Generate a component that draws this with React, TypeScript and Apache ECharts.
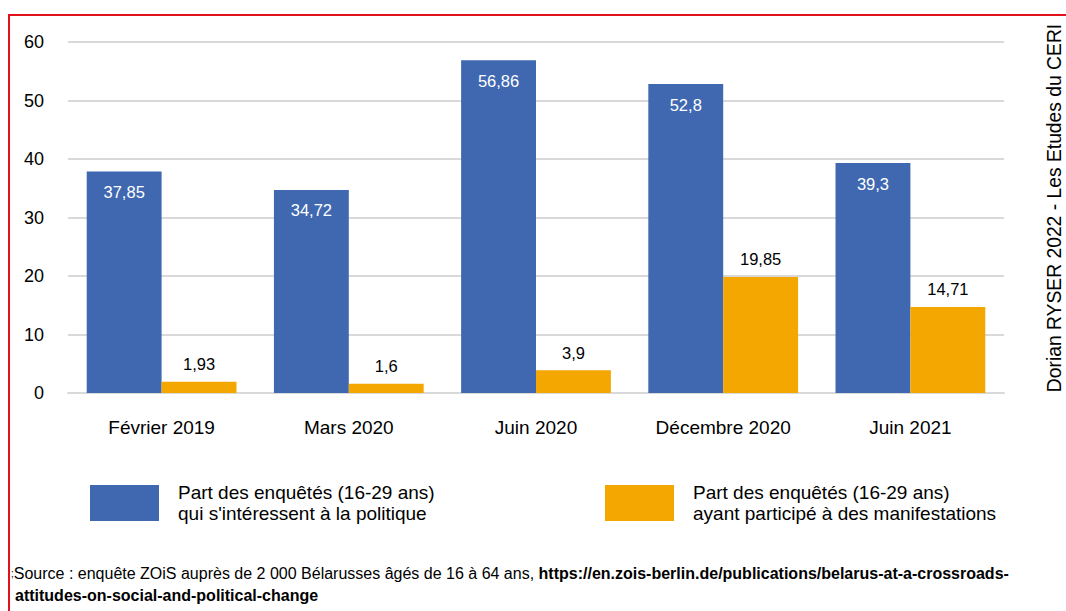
import React, { useEffect, useRef } from "react";
import * as echarts from "echarts";

const categories = ["Février 2019", "Mars 2020", "Juin 2020", "Décembre 2020", "Juin 2021"];
const interestValues = [37.85, 34.72, 56.86, 52.8, 39.3];
const protestValues = [1.93, 1.6, 3.9, 19.85, 14.71];
const seriesNames = [
  "Part des enquêtés (16-29 ans)\nqui s'intéressent à la politique",
  "Part des enquêtés (16-29 ans)\nayant participé à des manifestations",
];
const credit = "Dorian RYSER 2022 - Les Etudes du CERI";
const sourceNormal = "Source : enquête ZOiS auprès de 2 000 Bélarusses âgés de 16 à 64 ans, ";
const sourceBold1 = "https://en.zois-berlin.de/publications/belarus-at-a-crossroads-";
const sourceBold2 = "attitudes-on-social-and-political-change";

const FONT = "'Liberation Sans', Arial, sans-serif";
const BLUE = "#3f68b1";
const ORANGE = "#f4a700";

const fmt = (v: number) => String(v).replace(".", ",");

export default function App() {
  const ref = useRef<HTMLDivElement>(null);
  useEffect(() => {
    if (!ref.current) return;
    const chart = echarts.init(ref.current, null, { renderer: "svg" });
    const legendText = { fontSize: 19, color: "#000", lineHeight: 21, padding: [0, 0, 0, 14], fontFamily: FONT };
    chart.setOption({
      animation: false,
      textStyle: { fontFamily: FONT },
      grid: { left: 68, right: 62, top: 42, bottom: 218 },
      xAxis: {
        type: "category",
        data: categories,
        axisTick: { show: false },
        axisLine: { lineStyle: { color: "#d9d9d9", width: 2 } },
        axisLabel: { color: "#000", fontSize: 19, margin: 25, fontFamily: FONT },
      },
      yAxis: {
        type: "value",
        min: 0,
        max: 60,
        interval: 10,
        axisLine: { show: false },
        axisTick: { show: false },
        axisLabel: { color: "#000", fontSize: 18, margin: 24, fontFamily: FONT },
        splitLine: { lineStyle: { color: "#d9d9d9", width: 2 } },
      },
      legend: [
        {
          data: [seriesNames[0]],
          left: 90,
          top: 482,
          padding: 0,
          itemWidth: 69,
          itemHeight: 36,
          itemGap: 0,
          icon: "rect",
          textStyle: legendText,
          selectedMode: false,
        },
        {
          data: [seriesNames[1]],
          left: 605,
          top: 482,
          padding: 0,
          itemWidth: 69,
          itemHeight: 36,
          itemGap: 0,
          icon: "rect",
          textStyle: legendText,
          selectedMode: false,
        },
      ],
      series: [
        {
          name: seriesNames[0],
          type: "bar",
          data: interestValues,
          barGap: "0%",
          barCategoryGap: "20%",
          itemStyle: { color: BLUE },
          label: {
            show: true,
            position: "insideTop",
            distance: 12,
            color: "#fff",
            fontSize: 16.5,
            fontFamily: FONT,
            formatter: (p: any) => fmt(p.value),
          },
        },
        {
          name: seriesNames[1],
          type: "bar",
          data: protestValues,
          itemStyle: { color: ORANGE },
          label: {
            show: true,
            position: "top",
            distance: 9,
            color: "#000",
            fontSize: 16.5,
            fontFamily: FONT,
            formatter: (p: any) => fmt(p.value),
          },
        },
      ],
      graphic: [
        { type: "line", shape: { x1: 9, y1: 15, x2: 1066, y2: 15 }, style: { stroke: "#e3111c", lineWidth: 2 } },
        { type: "line", shape: { x1: 9, y1: 14, x2: 9, y2: 611 }, style: { stroke: "#e3111c", lineWidth: 2 } },
        {
          type: "text",
          x: 1054,
          y: 208,
          rotation: Math.PI / 2,
          style: {
            text: credit,
            fontSize: 19.3,
            fontFamily: FONT,
            fill: "#000",
            align: "center",
            verticalAlign: "middle",
          },
        },
        {
          type: "text",
          x: 11,
          y: 573,
          style: {
            text: "{s|;}{n|" + sourceNormal + "}{b|" + sourceBold1 + "}",
            fontFamily: FONT,
            verticalAlign: "middle",
            rich: {
              s: { fontSize: 10, fill: "#000", fontFamily: FONT },
              n: { fontSize: 16, fill: "#000", fontFamily: FONT },
              b: { fontSize: 16, fill: "#000", fontWeight: "bold", fontFamily: FONT },
            },
          },
        },
        {
          type: "text",
          x: 15,
          y: 595,
          style: {
            text: sourceBold2,
            fontSize: 16,
            fontWeight: "bold",
            fill: "#000",
            fontFamily: FONT,
            verticalAlign: "middle",
          },
        },
      ],
    });
    return () => chart.dispose();
  }, []);
  return (
    <div
      ref={ref}
      style={{ position: "fixed", left: 0, top: 0, width: 1066, height: 611, background: "#fff" }}
    />
  );
}
